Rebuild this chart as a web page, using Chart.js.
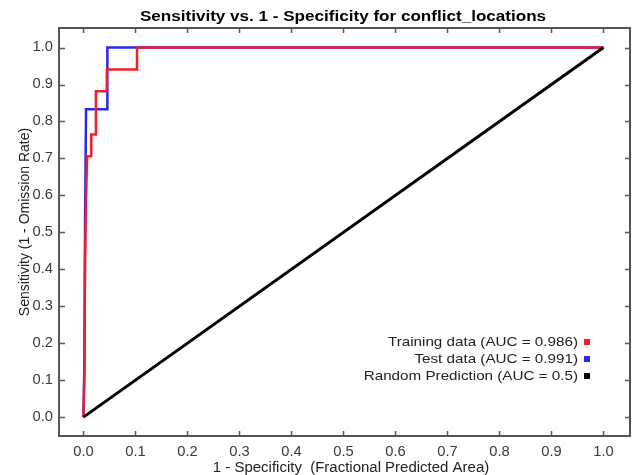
<!DOCTYPE html>
<html>
<head>
<meta charset="utf-8">
<script src="https://cdn.jsdelivr.net/npm/chart.js@4"></script>
<style>
  body { margin: 0; background: #fff; }
</style>
</head>
<body>
<canvas id="roc" width="637" height="475"></canvas>
<script>
// ROC curve data
const trainFpr = [0, 0.002, 0.003, 0.005, 0.007, 0.015, 0.015, 0.024, 0.024, 0.045, 0.045, 0.103, 0.103, 1.0];
const trainTpr = [0, 0.118, 0.412, 0.588, 0.706, 0.706, 0.765, 0.765, 0.882, 0.882, 0.941, 0.941, 1.0, 1.0];
const testFpr = [0, 0.002, 0.003, 0.005, 0.046, 0.046, 1.0];
const testTpr = [0, 0.167, 0.5, 0.833, 0.833, 1.0, 1.0];
const randFpr = [0, 1];
const randTpr = [0, 1];

const seriesLabels = ["Training data (AUC = 0.986)", "Test data (AUC = 0.991)", "Random Prediction (AUC = 0.5)"];
const seriesColors = ["#f01e28", "#2828f0", "#000000"];

const tickValues = [0, 0.1, 0.2, 0.3, 0.4, 0.5, 0.6, 0.7, 0.8, 0.9, 1.0];
const tickLabels = ["0.0", "0.1", "0.2", "0.3", "0.4", "0.5", "0.6", "0.7", "0.8", "0.9", "1.0"];

const chartTitle = "Sensitivity vs. 1 - Specificity for conflict_locations";
const xTitle = "1 - Specificity  (Fractional Predicted Area)";
const yTitle = "Sensitivity (1 - Omission Rate)";

function toPoints(xs, ys) {
  return xs.map((x, i) => ({ x: x, y: ys[i] }));
}

// draw text squeezed/stretched horizontally
function drawText(ctx, str, x, y, sx, align) {
  ctx.save();
  ctx.translate(x, y);
  ctx.scale(sx, 1);
  ctx.textAlign = align;
  ctx.fillText(str, 0, 0);
  ctx.restore();
}

const framePlugin = {
  id: "frame",
  afterDraw(chart) {
    const ctx = chart.ctx;
    const a = chart.chartArea;
    const xs = chart.scales.x;
    const ys = chart.scales.y;

    ctx.save();
    // ticks pointing inward on all sides
    ctx.strokeStyle = "#555";
    ctx.lineWidth = 1.5;
    ctx.beginPath();
    tickValues.forEach((v) => {
      const px = Math.round(xs.getPixelForValue(v)) + 0.5;
      const py = Math.round(ys.getPixelForValue(v)) + 0.5;
      ctx.moveTo(px, a.bottom); ctx.lineTo(px, a.bottom - 5);
      ctx.moveTo(px, a.top); ctx.lineTo(px, a.top + 5);
      ctx.moveTo(a.left, py); ctx.lineTo(a.left + 6, py);
      ctx.moveTo(a.right, py); ctx.lineTo(a.right - 5, py);
    });
    ctx.stroke();

    // frame
    ctx.lineWidth = 2;
    ctx.strokeStyle = "#555";
    ctx.strokeRect(a.left, a.top, a.right - a.left, a.bottom - a.top);

    // tick labels
    ctx.fillStyle = "#3a3a3a";
    ctx.font = "14px 'Liberation Sans', Arial, sans-serif";
    ctx.textBaseline = "middle";
    tickValues.forEach((v, i) => {
      drawText(ctx, tickLabels[i], xs.getPixelForValue(v), 452, 1.05, "center");
      drawText(ctx, tickLabels[i], 53, ys.getPixelForValue(v), 1.05, "right");
    });

    // axis titles
    ctx.fillStyle = "#222";
    drawText(ctx, xTitle, 351, 468, 1.07, "center");
    ctx.save();
    ctx.translate(25, 222);
    ctx.rotate(-Math.PI / 2);
    ctx.textAlign = "center";
    ctx.fillText(yTitle, 0, 0);
    ctx.restore();

    // chart title
    ctx.fillStyle = "#000";
    ctx.font = "bold 14px 'Liberation Sans', Arial, sans-serif";
    drawText(ctx, chartTitle, 343, 17, 1.22, "center");

    // legend
    const legendY = [342, 359, 376];
    ctx.font = "13px 'Liberation Sans', Arial, sans-serif";
    chart.data.datasets.forEach((ds, i) => {
      ctx.fillStyle = "#222";
      drawText(ctx, ds.label, 578, legendY[i], 1.17, "right");
      ctx.fillStyle = ds.borderColor;
      ctx.fillRect(584, legendY[i] - 3, 6, 6);
    });
    ctx.restore();
  },
};

new Chart(document.getElementById("roc"), {
  type: "scatter",
  data: {
    datasets: [
      {
        label: seriesLabels[0],
        data: toPoints(trainFpr, trainTpr),
        borderColor: seriesColors[0],
        backgroundColor: seriesColors[0],
        borderWidth: 2.5,
        showLine: true,
        pointRadius: 0,
        order: 1,
      },
      {
        label: seriesLabels[1],
        data: toPoints(testFpr, testTpr),
        borderColor: seriesColors[1],
        backgroundColor: seriesColors[1],
        borderWidth: 2.5,
        showLine: true,
        pointRadius: 0,
        order: 2,
      },
      {
        label: seriesLabels[2],
        data: toPoints(randFpr, randTpr),
        borderColor: seriesColors[2],
        backgroundColor: seriesColors[2],
        borderWidth: 3,
        showLine: true,
        pointRadius: 0,
        order: 0,
      },
    ],
  },
  options: {
    responsive: false,
    animation: false,
    devicePixelRatio: 1,
    layout: { padding: { left: 59, right: 7, top: 28, bottom: 39 } },
    plugins: {
      legend: { display: false },
      title: { display: false },
      tooltip: { enabled: false },
    },
    scales: {
      x: { type: "linear", min: -0.047, max: 1.051, display: false },
      y: { type: "linear", min: -0.051, max: 1.053, display: false },
    },
  },
  plugins: [framePlugin],
});
</script>
</body>
</html>
